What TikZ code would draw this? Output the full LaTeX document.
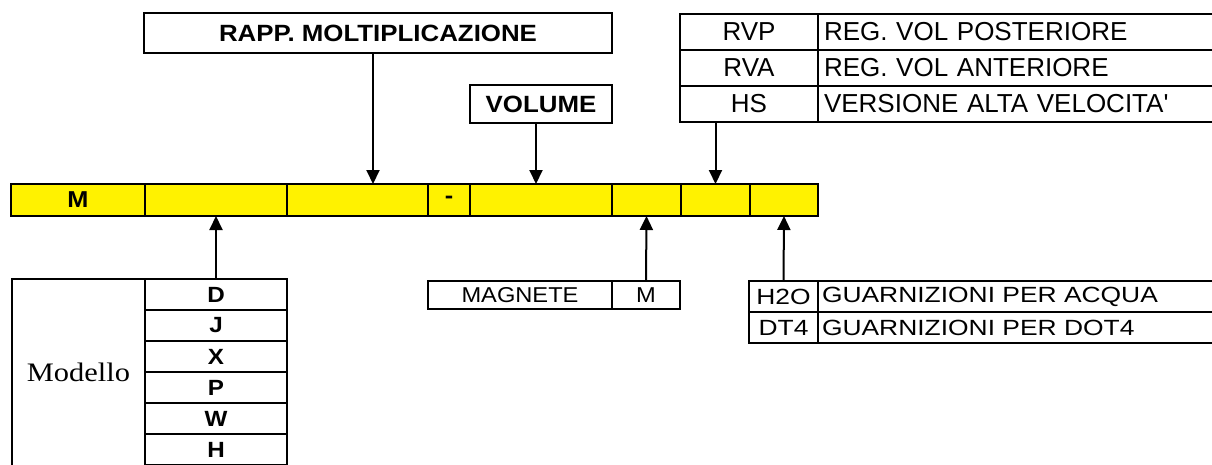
\documentclass[tikz,border=0pt]{standalone}
\usepackage{fontspec}
\setmainfont{Liberation Sans}
\newfontfamily\fA{Liberation Sans}
\newfontfamily\fB[FakeStretch=1.1]{Liberation Sans}
\newfontfamily\fC[FakeStretch=1.2]{Liberation Sans}
\newfontfamily\modfont[FakeStretch=1.14]{Liberation Serif}
\usetikzlibrary{arrows.meta}
\begin{document}
\begin{tikzpicture}[x=1pt,y=-1pt,
  box/.style={draw, line width=2pt, inner sep=0pt, outer sep=0pt},
  cell/.style={box, fill=yellow, minimum height=32pt, font=\fB\fontsize{23}{25}\selectfont\bfseries},
  blab/.style={box, font=\fB\fontsize{23.5}{26}\selectfont\bfseries},
  rlab/.style={box, font=\fA\fontsize{26}{28}\selectfont},
  desc/.style={box, font=\fA\fontsize{26}{28}\selectfont, text width=384pt, inner xsep=6pt, align=left},
  glab/.style={box, font=\fC\fontsize{22}{24}\selectfont},
  gdesc/.style={box, font=\fC\fontsize{22}{24}\selectfont, text width=388pt, inner xsep=4pt, align=left},
  mlet/.style={box, minimum width=142pt, minimum height=31pt, font=\fB\fontsize{22}{24}\selectfont\bfseries},
  arr/.style={line width=2pt, -{Triangle[width=13pt,length=14pt]}}]
\useasboundingbox (0,0) rectangle (1212,464);
% bar
\node[cell, minimum width=134pt] (b1) at (78,200) {M};
\node[cell, minimum width=142pt] (b2) at (216,200) {};
\node[cell, minimum width=141pt] (b3) at (357.5,200) {};
\node[cell, minimum width=42pt] (b4) at (449,200) {-};
\node[cell, minimum width=142pt] (b5) at (541,200) {};
\node[cell, minimum width=69pt] (b6) at (646.5,200) {};
\node[cell, minimum width=69pt] (b7) at (715.5,200) {};
\node[cell, minimum width=68pt] (b8) at (784,200) {};
% top labels
\node[blab, minimum width=468pt, minimum height=40pt] (rapp) at (378,33) {RAPP. MOLTIPLICAZIONE};
\node[blab, minimum width=142pt, minimum height=38pt] (vol) at (541,104) {VOLUME};
% RVP table
\node[rlab, minimum width=138pt, minimum height=36pt] (rvp) at (749,32) {RVP};
\node[rlab, minimum width=138pt, minimum height=36pt] (rva) at (749,68) {RVA};
\node[rlab, minimum width=138pt, minimum height=36pt] (hs) at (749,104) {HS};
\node[desc, minimum height=36pt] (rvpd) at (1016,32) {REG. VOL POSTERIORE};
\node[desc, minimum height=36pt] (rvad) at (1016,68) {REG. VOL ANTERIORE};
\node[desc, minimum height=36pt] (hsd) at (1016,104) {VERSIONE ALTA VELOCITA'};
% Modello table
\node[box, minimum width=133pt, minimum height=187pt, font=\modfont\fontsize{26.7}{28}\selectfont] (mod) at (78.5,372.5) {Modello};
\node[mlet] (mD) at (216,294.5) {D};
\node[mlet] (mJ) at (216,325.5) {J};
\node[mlet] (mX) at (216,356.5) {X};
\node[mlet] (mP) at (216,387.5) {P};
\node[mlet] (mW) at (216,418.5) {W};
\node[mlet] (mH) at (216,449.5) {H};
% Magnete
\node[box, minimum width=184pt, minimum height=28pt, font=\fB\fontsize{21.5}{23}\selectfont] (mag) at (520,295) {MAGNETE};
\node[box, minimum width=68pt, minimum height=28pt, font=\fB\fontsize{21.5}{23}\selectfont] (magM) at (646,295) {M};
% H2O table
\node[glab, minimum width=69pt, minimum height=31pt] (h2o) at (783.5,296.5) {H2O};
\node[glab, minimum width=69pt, minimum height=31pt] (dt4) at (783.5,327.5) {DT4};
\node[gdesc, minimum height=31pt] (h2od) at (1016,296.5) {GUARNIZIONI PER ACQUA};
\node[gdesc, minimum height=31pt] (dt4d) at (1016,327.5) {GUARNIZIONI PER DOT4};
% arrows
\draw[arr] ([xshift=-5pt]rapp.south) -- ([xshift=-5pt]rapp.south |- b3.north);
\draw[arr] ([xshift=-5pt]vol.south) -- ([xshift=-5pt]b5.north);
\draw[arr] (b7.north |- hs.south) -- (b7.north);
\draw[arr] (mD.north) -- (b2.south);
\draw[arr] (magM.north) -- (b6.south);
\draw[arr] (h2o.north) -- (b8.south);
\end{tikzpicture}
\end{document}
